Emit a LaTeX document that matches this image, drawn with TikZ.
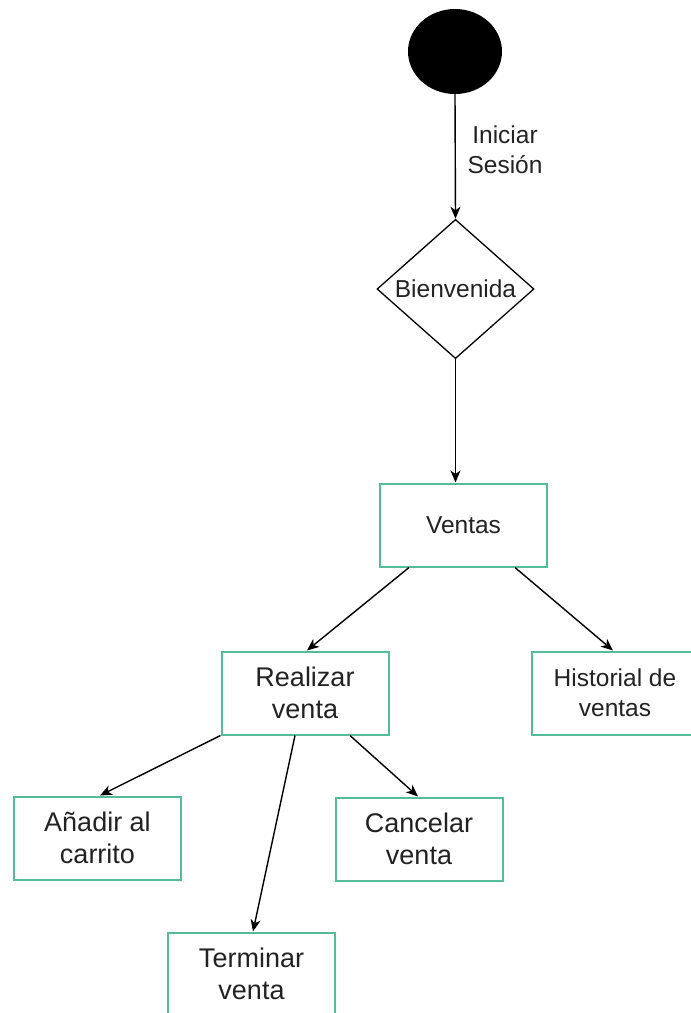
\documentclass[tikz,border=0pt]{standalone}
\usepackage{fontspec}
\setmainfont{Liberation Sans}
\usetikzlibrary{shapes.geometric,arrows.meta}
\definecolor{boxgreen}{RGB}{84,188,150}
\definecolor{txt}{RGB}{34,34,34}

\begin{document}
\begin{tikzpicture}[x=1pt,y=-1pt,
  stepbox/.style={draw=boxgreen, line width=2pt, minimum width=167pt, minimum height=83pt,
                  inner sep=0pt, align=center, text=txt},
  big/.style={font=\fontsize{27}{32}\selectfont},
  small/.style={font=\fontsize{24.5}{30}\selectfont},
  flow/.style={-{Stealth[length=12pt,width=10pt,inset=3.5pt]}, line width=1.4pt}
]
\useasboundingbox (0,0) rectangle (691,1013);
\clip (0,0) rectangle (691,1013);

% initial state and decision
\node[ellipse, fill=black, minimum width=94pt, minimum height=85pt, inner sep=0pt] (start) at (455,51.5) {};
\node[diamond, draw, line width=1.3pt, minimum width=157pt, minimum height=138pt,
      inner sep=0pt, small, text=txt] (dia) at (455.5,289) {Bienvenida};
\node[small, text=txt, align=center] (lbl) at (505,150) {Iniciar\\Sesión};

% activity boxes
\node[stepbox, small] (ventas) at (463.5,525) {Ventas};
\node[stepbox, big] (realizar) at (305,693) {Realizar\\venta};
\node[stepbox, small] (historial) at (615,693) {Historial de\\ventas};
\node[stepbox, big] (anadir) at (97.5,838) {Añadir al\\carrito};
\node[stepbox, big] (cancelar) at (419,839) {Cancelar\\venta};
\node[stepbox, big] (terminar) at (251.5,974) {Terminar\\venta};

% transitions
\draw[flow] (start.south) -- (dia.north);
\draw[flow] (dia.south) -- (dia.south |- ventas.north);
\draw[flow] ([xshift=-54.5pt]ventas.south) -- ([xshift=2pt]realizar.north);
\draw[flow] ([xshift=51.5pt]ventas.south) -- ([xshift=-2pt]historial.north);
\draw[flow] (realizar.south west) -- ([xshift=2.5pt]anadir.north);
\draw[flow] ([xshift=-10pt]realizar.south) -- ([xshift=1.5pt]terminar.north);
\draw[flow] ([xshift=45pt]realizar.south) -- ([xshift=-1pt]cancelar.north);
\end{tikzpicture}
\end{document}
